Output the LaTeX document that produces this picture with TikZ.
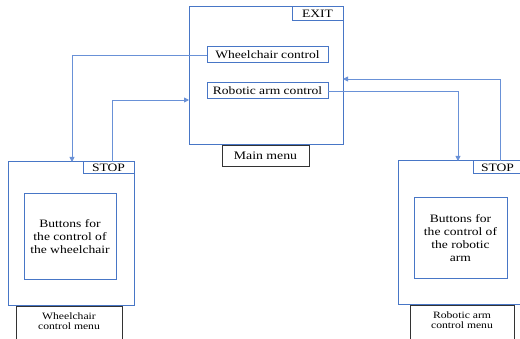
\documentclass[tikz,border=0pt]{standalone}
\usepackage{fontspec}
\setmainfont[FakeStretch=1.2]{Liberation Serif}
\usetikzlibrary{arrows.meta}
\definecolor{boxblue}{RGB}{72,118,198}
\definecolor{linkblue}{RGB}{105,145,215}
\begin{document}
\begin{tikzpicture}[x=1pt,y=-1pt,
  bluebox/.style={draw=boxblue, line width=1pt, inner sep=0pt, outer sep=0pt, anchor=north west, align=center, font=\fontsize{11.3}{13}\selectfont},
  blackbox/.style={draw=black!80, line width=0.9pt, inner sep=0pt, outer sep=0pt, anchor=north west, align=center, font=\fontsize{11.5}{13}\selectfont},
  link/.style={draw=linkblue, line width=0.8pt, -{Triangle[length=5pt,width=5pt]}},
  smalltext/.style={align=center, inner sep=0pt, font=\fontsize{9.7}{10.5}\selectfont}]
\useasboundingbox (0,0) rectangle (520,339);
\clip (0,0) rectangle (520,339);
% main menu
\node[bluebox, minimum width=154pt, minimum height=138pt] (main) at (189,7) {};
\node[bluebox, minimum width=51pt, minimum height=14pt] (exit) at (292,7) {EXIT};
\node[bluebox, minimum width=121pt, minimum height=16pt] (wc) at (207,47) {Wheelchair control};
\node[bluebox, minimum width=121pt, minimum height=16pt] (rc) at (207,83) {Robotic arm control};
\node[blackbox, minimum width=87pt, minimum height=21pt] (mm) at (222,145) {Main menu};
% left menu
\node[bluebox, minimum width=126pt, minimum height=144pt] (lb) at (8,162) {};
\node[bluebox, minimum width=51pt, minimum height=12pt] (lstop) at (83,162) {STOP};
\node[bluebox, minimum width=92pt, minimum height=86pt] (lin) at (24,194) {Buttons for\\the control of\\the wheelchair};
\draw[black!80, line width=0.9pt] (16,345) -- (16,306) -- (122,306) -- (122,345);
\node[smalltext] (llab) at (69,321) {Wheelchair\\control menu};
% right menu
\node[bluebox, minimum width=126pt, minimum height=144pt] (rb) at (398,161) {};
\node[bluebox, minimum width=51pt, minimum height=13pt] (rstop) at (473,161) {\hspace*{-2pt}STOP};
\node[bluebox, minimum width=93pt, minimum height=81pt] (rin) at (414,198) {Buttons for\\the control of\\the robotic\\arm};
\draw[black!80, line width=0.9pt] (410,345) -- (410,305) -- (514,305) -- (514,345);
\node[smalltext] (rlab) at (462,320) {Robotic arm\\control menu};
% connectors
\draw[link] (wc.west) -| ([xshift=64pt]lb.north west);
\draw[link] ([xshift=104pt]lb.north west) |- ([yshift=-24pt]main.west);
\draw[link] (rc.east) -| ([xshift=60pt]rb.north west);
\draw[link] ([xshift=102pt]rb.north west) |- ([yshift=-3pt]main.east);
\end{tikzpicture}
\end{document}
